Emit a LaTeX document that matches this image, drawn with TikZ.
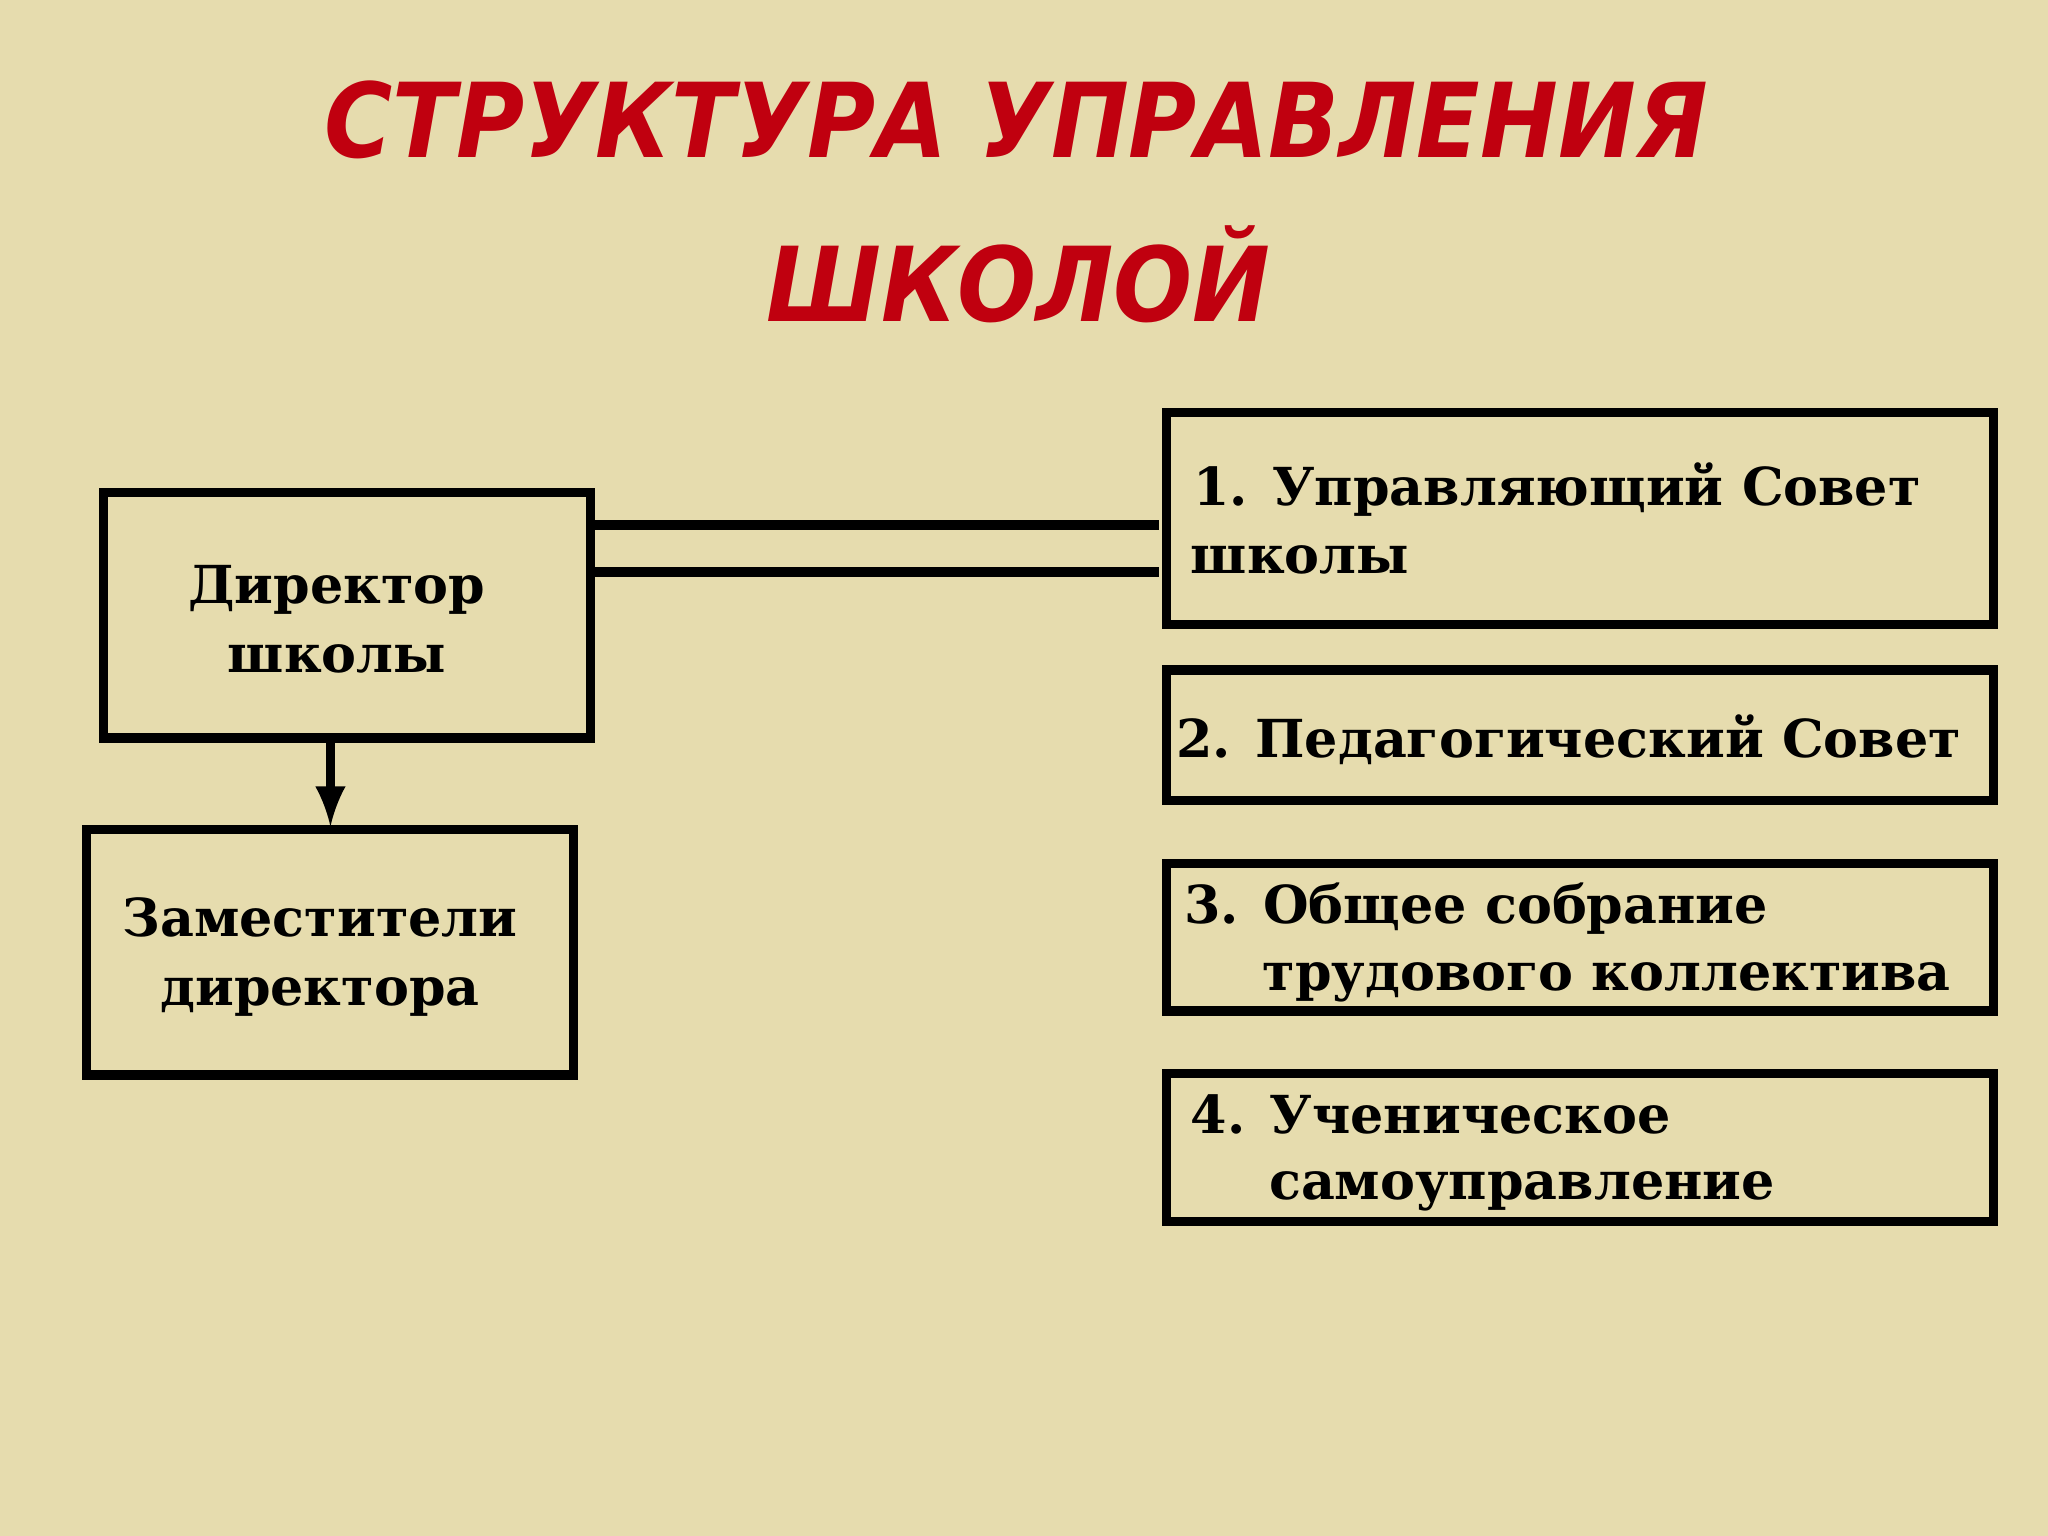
\documentclass[tikz,border=0pt]{standalone}
\usepackage{fontspec}
\setmainfont{DejaVu Serif}
\newfontfamily\titlefont{DejaVu Sans Condensed}
\definecolor{bg}{HTML}{E6DCAE}
\definecolor{tred}{HTML}{C0000F}
\begin{document}
\begin{tikzpicture}[x=0.01cm,y=-0.01cm,
  box/.style={draw,line width=2pt},
  txt/.style={anchor=base west,inner sep=0pt,font=\bfseries\fontsize{11.4}{14}\selectfont},
  ctxt/.style={align=center,inner sep=0pt,font=\bfseries\fontsize{11.4}{15}\selectfont},
  ttl/.style={text=tred,inner sep=0pt,font=\titlefont\bfseries\itshape\fontsize{22.5}{27}\selectfont}]
\fill[bg] (0,0) rectangle (1568,1176);
\useasboundingbox (0,0) rectangle (1568,1176);
\node[ttl] (t1) at (778,92) {СТРУКТУРА УПРАВЛЕНИЯ};
\node[ttl] (t2) at (780,210) {ШКОЛОЙ};
\draw[box] (79,377) rectangle (452,565);
\node[ctxt] (dir) at (258,474) {Директор\\школы};
\draw[box] (66,635) rectangle (439,823);
\node[ctxt] (dep) at (245,733) {Заместители\\директора};
\coordinate (dtop) at (253,565);
\coordinate (dbot) at (253,633);
\draw[line width=2pt,-latex] (dtop) -- (dbot);
\draw[box] (893,316) rectangle (1526,478);
\draw[box] (893,513) rectangle (1526,613);
\draw[box] (893,661) rectangle (1526,774);
\draw[box] (893,822) rectangle (1526,935);
\coordinate (a1) at (455,402); \coordinate (b1) at (887,402);
\coordinate (a2) at (455,438); \coordinate (b2) at (887,438);
\draw[line width=2pt] (a1) -- (b1);
\draw[line width=2pt] (a2) -- (b2);
\node[txt] (n1a) at (913,387) {1. Управляющий Совет};
\node[txt] (n1b) at (911,439) {школы};
\node[txt] (n2) at (900,580) {2. Педагогический Совет};
\node[txt] (n3a) at (906,707) {3. Общее собрание};
\node[txt] (n3b) at (966,758) {трудового коллектива};
\node[txt] (n4a) at (911,868) {4. Ученическое};
\node[txt] (n4b) at (971,918) {самоуправление};
\end{tikzpicture}
\end{document}
